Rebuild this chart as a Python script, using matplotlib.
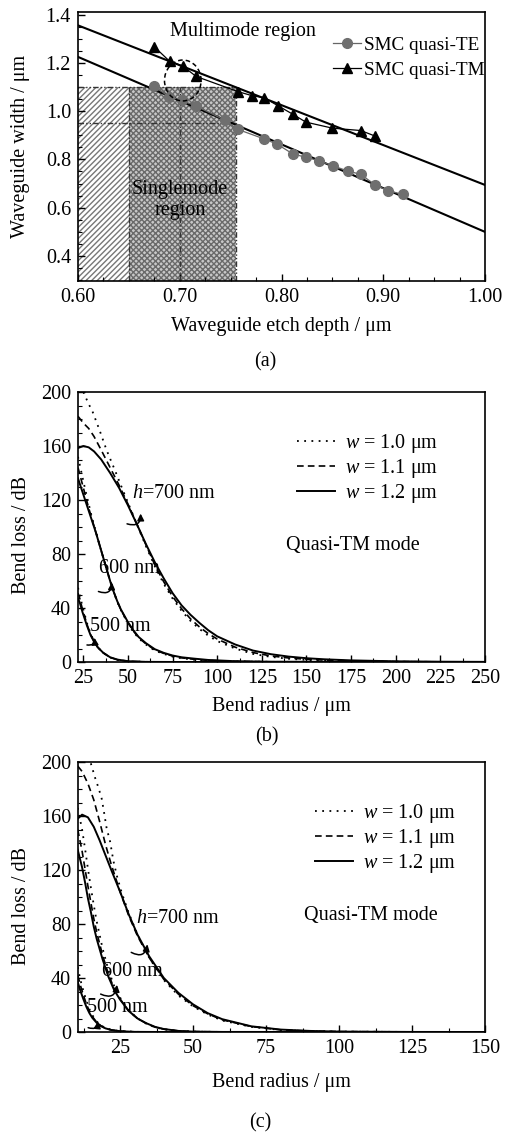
import matplotlib
matplotlib.use("Agg")
import matplotlib.pyplot as plt
from matplotlib.patches import Rectangle, Ellipse
from matplotlib.ticker import MultipleLocator, FormatStrFormatter
from matplotlib.lines import Line2D

plt.rcParams['font.family'] = ['Liberation Serif', 'DejaVu Serif']
plt.rcParams['mathtext.fontset'] = 'custom'
plt.rcParams['mathtext.rm'] = 'Liberation Serif'
plt.rcParams['mathtext.it'] = 'Liberation Serif:italic'
plt.rcParams['font.size'] = 14.5

# ---------------- Panel (a) data ----------------
te_x = [0.675, 0.689, 0.702, 0.716, 0.744, 0.757, 0.783, 0.796, 0.811, 0.824,
        0.837, 0.851, 0.865, 0.878, 0.892, 0.905, 0.919]
te_y = [1.105, 1.061, 1.045, 1.022, 0.964, 0.925, 0.885, 0.863, 0.823, 0.809,
        0.794, 0.773, 0.752, 0.738, 0.694, 0.670, 0.655]
tm_x = [0.675, 0.690, 0.703, 0.716, 0.757, 0.771, 0.783, 0.797, 0.811, 0.824,
        0.850, 0.878, 0.892]
tm_y = [1.268, 1.208, 1.188, 1.145, 1.082, 1.065, 1.056, 1.022, 0.988, 0.955,
        0.930, 0.920, 0.897]
fit_x = [0.60, 1.00]
fit_te = [1.226, 0.499]
fit_tm = [1.357, 0.694]

# ---------------- Panel (b) data ----------------
b700_x12 = [22, 25, 28, 31, 35, 40, 45, 50, 55, 60, 65, 70, 75, 80, 85, 90, 95, 100,
            110, 120, 130, 140, 150, 160, 175, 200, 225, 250]
b700_w12 = [158.5, 160, 159, 156, 150, 140, 129, 116, 102, 87.5, 74, 62, 51, 42, 35,
            29, 23.5, 19, 13, 8.5, 5.8, 4, 2.8, 2, 1.2, 0.5, 0.2, 0.1]
b700_w11 = [182, 177, 173, 167, 157, 144, 131, 117, 102, 87, 72, 59.5, 48.5, 39.5, 32,
            26, 21, 17, 11, 7, 4.5, 3, 2, 1.4, 0.8, 0.3, 0.1, 0]
b700_x10 = [25, 28, 30, 34, 38, 43, 46, 50, 55, 60, 65, 70, 75, 80, 85, 90, 95, 100,
            110, 120, 130, 140, 150, 160, 175, 200, 225, 250]
b700_w10 = [200, 191, 186, 172, 157, 141, 131, 118, 102, 86, 71, 58, 47, 38, 30.5,
            24.5, 19.5, 15.5, 10, 6, 3.8, 2.4, 1.5, 1, 0.5, 0.2, 0.05, 0]

b600_x = [22, 24, 26, 28, 30, 32, 34, 36, 38, 40, 42, 44, 46, 50, 53, 56, 60, 65, 70,
          75, 80, 87, 95, 110, 130, 250]
b600_w12 = [136, 128, 120, 112, 104, 96, 87, 78, 69, 60, 52, 45, 39, 29.5, 23.5, 18.5,
            14, 9.5, 6.8, 4.8, 3.5, 2.5, 1.5, 0.6, 0.2, 0]
b600_w11 = [144, 134, 124, 114, 105, 96, 87, 78, 69, 60, 52, 45, 38.8, 29, 23, 18,
            13.5, 9, 6.4, 4.4, 3.1, 2, 1.2, 0.5, 0.15, 0]
b600_w10 = [152, 140, 128, 117, 106, 97, 87, 78, 69, 60, 52, 44.5, 38.5, 28.5, 22.5,
            17.5, 13, 8.5, 6, 4, 2.8, 1.7, 1, 0.4, 0.1, 0]

b500_x = [22, 23, 24.5, 26, 27, 29, 31, 33, 36, 40, 44, 50, 60, 80, 250]
b500_w12 = [47, 44, 37, 31, 27, 20, 15, 11, 7, 3.5, 1.8, 0.6, 0.1, 0, 0]
b500_w11 = [51, 47, 39, 32.5, 28, 20.5, 15.3, 11, 6.9, 3.4, 1.7, 0.55, 0.1, 0, 0]
b500_w10 = [55, 50, 41, 34, 29, 21, 15.5, 11, 6.8, 3.3, 1.6, 0.5, 0.1, 0, 0]

# ---------------- Panel (c) data ----------------
c700_x = [10.5, 12, 14, 16, 18, 20, 22, 25, 28, 31, 35, 40, 45, 50, 55, 60, 70, 80,
          90, 100, 125, 150]
c700_w12 = [158, 161, 159, 152, 142, 131, 120, 104, 87, 72, 56, 40, 29, 20.5, 14, 9.5,
            4.2, 1.8, 0.8, 0.3, 0.05, 0]
c700_w11 = [197, 193, 184, 172, 156, 139, 124, 104, 86, 71, 55, 39, 28, 19.5, 13.5, 9,
            4, 1.6, 0.7, 0.3, 0.05, 0]
c700_x10 = [15, 16.5, 17.6, 18.7, 19.5, 20.4, 21.6, 22.7, 24, 25.6, 28, 31, 35, 40, 45,
            50, 55, 60, 70, 80, 90, 100, 125, 150]
c700_w10 = [199, 188, 181, 173, 163, 151, 141, 127, 115, 103, 88, 72, 55, 38.5, 27, 19,
            13, 8.5, 3.8, 1.5, 0.6, 0.25, 0.05, 0]

c600_x = [10.5, 12, 13, 14, 15, 16, 17, 19, 21, 23, 25, 28, 31, 34, 37, 40, 45, 50, 60, 150]
c600_w12 = [135, 122, 111, 99, 89, 78, 69, 54, 41, 31, 24, 15.5, 10, 6.5, 3.8, 2.2, 0.8,
            0.3, 0.05, 0]
c600_w11 = [150, 134, 121, 108, 96, 84, 74, 57, 43, 32, 24.5, 15.5, 10, 6.3, 3.6, 2.1,
            0.8, 0.3, 0.05, 0]
c600_w10 = [166, 150, 136, 121, 107, 94, 82, 62, 46, 34, 25.5, 16, 10, 6.2, 3.5, 2, 0.7,
            0.25, 0.05, 0]

c500_x = [10.5, 11.5, 12.5, 13.5, 14.5, 15.5, 17, 18.5, 20, 22, 25, 30, 40, 150]
c500_w12 = [37, 30, 24, 18.5, 14, 10.5, 6.8, 4.3, 2.7, 1.5, 0.6, 0.1, 0, 0]
c500_w11 = [42, 34, 27, 20.5, 15.5, 11.5, 7.2, 4.5, 2.8, 1.5, 0.6, 0.1, 0, 0]
c500_w10 = [48, 38, 30, 23, 17, 12.5, 7.8, 4.8, 3.0, 1.6, 0.6, 0.1, 0, 0]

legend_labels = [r'$w$ = 1.0 μm', r'$w$ = 1.1 μm', r'$w$ = 1.2 μm']

W, H = 506, 1137
fig = plt.figure(figsize=(W / 100, H / 100), dpi=100)


def ax_at(left, top, right, bottom):
    return fig.add_axes([left / W, 1 - bottom / H, (right - left) / W, (bottom - top) / H])


def style_axes(ax):
    ax.tick_params(which='both', direction='in', top=False, right=False,
                   labelsize=14.5, pad=5)
    ax.tick_params(which='major', length=5, width=1)
    ax.tick_params(which='minor', length=3, width=0.8)
    for s in ax.spines.values():
        s.set_linewidth(1.2)


DOT = (0, (1, 3))
DASH = (0, (4, 2.5))

# ================= Panel (a) =================
axa = ax_at(78, 12, 485, 281)
axa.set_xlim(0.60, 1.00)
axa.set_ylim(0.295, 1.4125)
# regions
axa.add_patch(Rectangle((0.60, 0.295), 0.05, 1.10 - 0.295, facecolor='white',
                        edgecolor='#777777', hatch='//////', lw=0, zorder=1))
axa.add_patch(Rectangle((0.65, 0.295), 0.105, 1.10 - 0.295, facecolor='#c8c8c8',
                        edgecolor='#6a6a6a', hatch='xxxxxx', lw=0, zorder=1))
dd = (0, (4, 1.5, 1, 1.5, 1, 1.5))
for xv in [0.65, 0.70, 0.755]:
    axa.plot([xv, xv], [0.295, 1.10], color='#333333', lw=1, ls=dd, zorder=2)
for yv in [1.10, 0.95]:
    axa.plot([0.60, 0.755], [yv, yv], color='#333333', lw=1, ls=dd, zorder=2)

axa.plot(fit_x, fit_tm, color='black', lw=1.5, zorder=3)
axa.plot(fit_x, fit_te, color='black', lw=1.5, zorder=3)
axa.plot(te_x, te_y, color='#666666', lw=0.9, marker='o', ms=7,
         mfc='#6f6f6f', mec='#6f6f6f', zorder=4, label='SMC quasi-TE')
axa.plot(tm_x, tm_y, color='black', lw=0.9, marker='^', ms=7.5,
         mfc='black', mec='black', zorder=4, label='SMC quasi-TM')
axa.add_patch(Ellipse((0.703, 1.128), 0.036, 0.17, fill=False, ls=(0, (3, 2)),
                      lw=1.1, color='black', zorder=5))
axa.text(0.762, 1.333, 'Multimode region', ha='center', va='center', fontsize=14.5)
axa.text(0.700, 0.633, 'Singlemode\nregion', ha='center', va='center',
         fontsize=14.5, linespacing=1.15, zorder=6)
axa.legend(loc='upper left', bbox_to_anchor=(0.627, 0.91), frameon=False,
           handlelength=1.45, handletextpad=0.15, labelspacing=0.4,
           borderpad=0, borderaxespad=0, fontsize=13.8)
axa.xaxis.set_major_locator(MultipleLocator(0.1))
axa.xaxis.set_minor_locator(MultipleLocator(0.025))
axa.xaxis.set_major_formatter(FormatStrFormatter('%.2f'))
axa.yaxis.set_major_locator(MultipleLocator(0.2))
axa.yaxis.set_minor_locator(MultipleLocator(0.05))
axa.yaxis.set_major_formatter(FormatStrFormatter('%.1f'))
style_axes(axa)
axa.set_xlabel('Waveguide etch depth / μm', fontsize=14.5)
axa.set_ylabel('Waveguide width / μm', fontsize=14.5)
axa.xaxis.set_label_coords(0.5, (281 - 327) / 269)
axa.xaxis.label.set_va('center')
axa.yaxis.set_label_coords((21 - 78) / 407, 0.5)
axa.yaxis.label.set_va('center')
fig.text(265 / W, 1 - 362 / H, '(a)', ha='center', va='center', fontsize=14.5)


def bend_panel(ax, sets, xlim, legend_anchor, qtext_xy, labels, arrows):
    for (x10, y10), (x11, y11), (x12, y12) in sets:
        ax.plot(x10, y10, color='black', lw=1.3, ls=DOT)
        ax.plot(x11, y11, color='black', lw=1.2, ls=DASH)
        ax.plot(x12, y12, color='black', lw=1.4, ls='-')
    ax.set_xlim(*xlim)
    ax.set_ylim(0, 200)
    handles = [Line2D([], [], color='black', lw=1.3, ls=DOT),
               Line2D([], [], color='black', lw=1.2, ls=DASH),
               Line2D([], [], color='black', lw=1.4, ls='-')]
    ax.legend(handles, legend_labels, loc='upper left', bbox_to_anchor=legend_anchor,
              frameon=False, handlelength=1.9, handletextpad=0.5, labelspacing=0.1,
              borderpad=0, borderaxespad=0, fontsize=14.5)
    ax.text(qtext_xy[0], qtext_xy[1], 'Quasi-TM mode', ha='center', va='center',
            fontsize=14.5)
    for txt, xy in labels:
        ax.text(xy[0], xy[1], txt, ha='left', va='center', fontsize=14.5)
    for start, end in arrows:
        ax.annotate('', xy=end, xytext=start,
                    arrowprops=dict(arrowstyle='-|>', color='black', lw=1.1,
                                    mutation_scale=10,
                                    connectionstyle='arc3,rad=0.8'))
    ax.xaxis.set_major_locator(MultipleLocator(25))
    ax.xaxis.set_minor_locator(MultipleLocator(12.5))
    ax.yaxis.set_major_locator(MultipleLocator(40))
    ax.yaxis.set_minor_locator(MultipleLocator(10))
    style_axes(ax)
    ax.set_xlabel('Bend radius / μm', fontsize=14.5)
    ax.set_ylabel('Bend loss / dB', fontsize=14.5)


# ================= Panel (b) =================
axb = ax_at(78, 392, 485, 662)
bend_panel(
    axb,
    [((b500_x, b500_w10), (b500_x, b500_w11), (b500_x, b500_w12)),
     ((b600_x, b600_w10), (b600_x, b600_w11), (b600_x, b600_w12)),
     ((b700_x10, b700_w10), (b700_x12, b700_w11), (b700_x12, b700_w12))],
    (22, 250), ((297 - 78) / 407, 0.853), (176, 86.5),
    [(r'$h$=700 nm', (52, 125)), ('600 nm', (34, 69)), ('500 nm', (28.5, 26))],
    [((48, 103), (57, 112)), ((32, 53), (41, 61)), ((25.5, 13), (31, 20))])
axb.xaxis.set_label_coords(0.5, (662 - 707) / 270)
axb.xaxis.label.set_va('center')
axb.yaxis.set_label_coords((21.5 - 78) / 407, 1 - (535 - 392) / 270)
axb.yaxis.label.set_va('center')
fig.text(266.7 / W, 1 - 737 / H, '(b)', ha='center', va='center', fontsize=14.5)

# ================= Panel (c) =================
axc = ax_at(78, 762, 485, 1032)
bend_panel(
    axc,
    [((c500_x, c500_w10), (c500_x, c500_w11), (c500_x, c500_w12)),
     ((c600_x, c600_w10), (c600_x, c600_w11), (c600_x, c600_w12)),
     ((c700_x10, c700_w10), (c700_x, c700_w11), (c700_x, c700_w12))],
    (10.6, 150), ((315 - 78) / 407, 0.853), (111, 86.5),
    [(r'$h$=700 nm', (30.5, 84)), ('600 nm', (18.8, 44.5)), ('500 nm', (13.8, 18.5))],
    [((28, 60), (34.5, 67)), ((17.5, 29), (24, 37)), ((13.2, 4), (17.5, 10))])
axc.xaxis.set_label_coords(0.5, (1032 - 1083) / 270)
axc.xaxis.label.set_va('center')
axc.yaxis.set_label_coords((21.5 - 78) / 407, 1 - (906 - 762) / 270)
axc.yaxis.label.set_va('center')
fig.text(260 / W, 1 - 1123 / H, '(c)', ha='center', va='center', fontsize=14.5)

fig.savefig('out.png', dpi=100)
